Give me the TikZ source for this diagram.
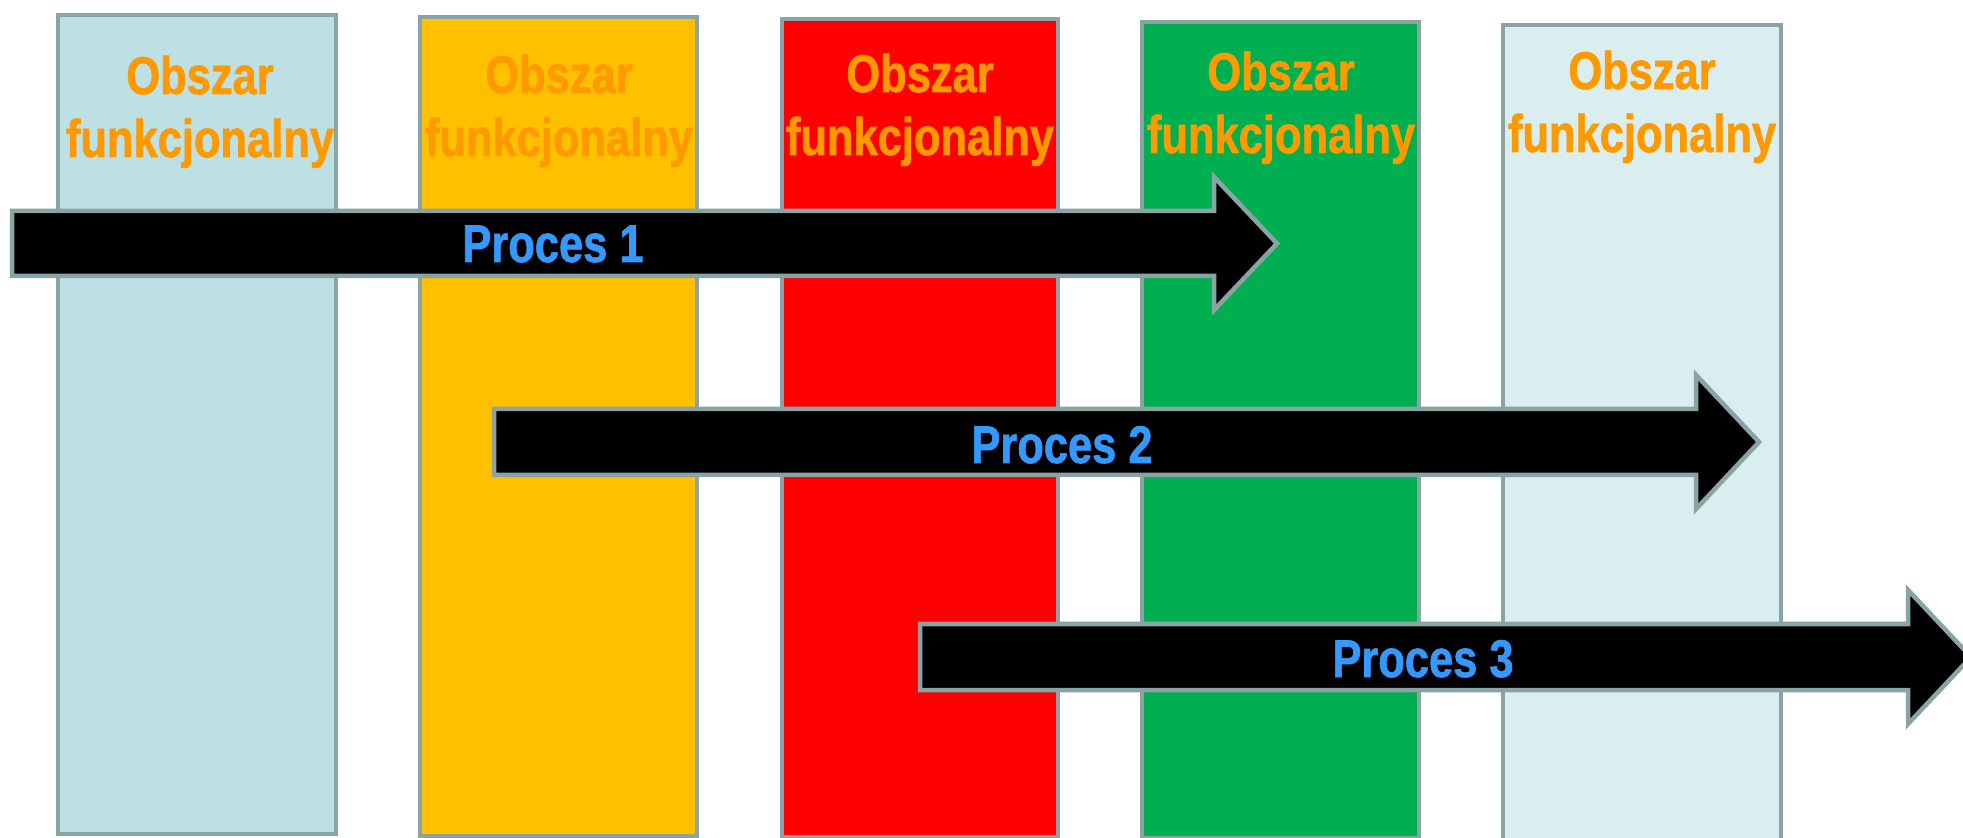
\documentclass[tikz,border=0pt]{standalone}
\usepackage{fontspec}
\newfontfamily\narrowsans{Liberation Sans Bold}[FakeStretch=0.82, FakeBold=1.2]
\definecolor{edge}{RGB}{138,164,166}
\definecolor{paleblue}{RGB}{188,224,227}
\definecolor{amber}{RGB}{255,192,0}
\definecolor{signalred}{RGB}{255,0,0}
\definecolor{leafgreen}{RGB}{0,176,80}
\definecolor{iceblue}{RGB}{218,237,239}
\definecolor{labelorange}{RGB}{255,153,0}
\definecolor{processblue}{RGB}{51,153,255}
\begin{document}
\begin{tikzpicture}[x=0.5pt,y=-0.5pt,
  area/.style={draw=edge, line width=2pt},
  areatext/.style={text=labelorange, anchor=base, inner sep=0pt,
    font=\narrowsans\fontsize{26.5}{31.5}\selectfont},
  flow/.style={fill=black, draw=edge, line width=2.25pt, line join=miter},
  flowtext/.style={text=processblue, anchor=base, inner sep=0pt,
    font=\narrowsans\fontsize{26.5}{31.5}\selectfont}]
\useasboundingbox (0,0) rectangle (1963,838);
\clip (0,0) rectangle (1963,838);

% functional areas (columns)
\path[area, fill=paleblue]  (58,15)   rectangle (336,834);
\path[area, fill=amber]     (420,17)  rectangle (697,836);
\path[area, fill=signalred] (782,19)  rectangle (1058,837);
\path[area, fill=leafgreen] (1142,22) rectangle (1419,838);
\path[area, fill=iceblue]   (1503,25) rectangle (1781,842);

\node[areatext] (a1t) at (200,94)  {Obszar};
\node[areatext] (a1b) at (200,157) {funkcjonalny};
\node[areatext] (a2t) at (559,93)  {Obszar};
\node[areatext] (a2b) at (559,156) {funkcjonalny};
\node[areatext] (a3t) at (920,92)  {Obszar};
\node[areatext] (a3b) at (920,155) {funkcjonalny};
\node[areatext] (a4t) at (1281,90) {Obszar};
\node[areatext] (a4b) at (1281,153) {funkcjonalny};
\node[areatext] (a5t) at (1642,89) {Obszar};
\node[areatext] (a5b) at (1642,152) {funkcjonalny};

% process arrows
\path[flow] (12,211) -- (1214,211) -- (1214,177) -- (1277,243.5)
  -- (1214,310) -- (1214,276) -- (12,276) -- cycle;
\path[flow] (494,409) -- (1696,409) -- (1696,375) -- (1759,442)
  -- (1696,509) -- (1696,475) -- (494,475) -- cycle;
\path[flow] (920,624) -- (1908,624) -- (1908,590) -- (1971,657)
  -- (1908,724) -- (1908,690) -- (920,690) -- cycle;

\node[flowtext] (p1) at (553,262) {Proces 1};
\node[flowtext] (p2) at (1062,463) {Proces 2};
\node[flowtext] (p3) at (1423,677) {Proces 3};
\end{tikzpicture}
\end{document}
